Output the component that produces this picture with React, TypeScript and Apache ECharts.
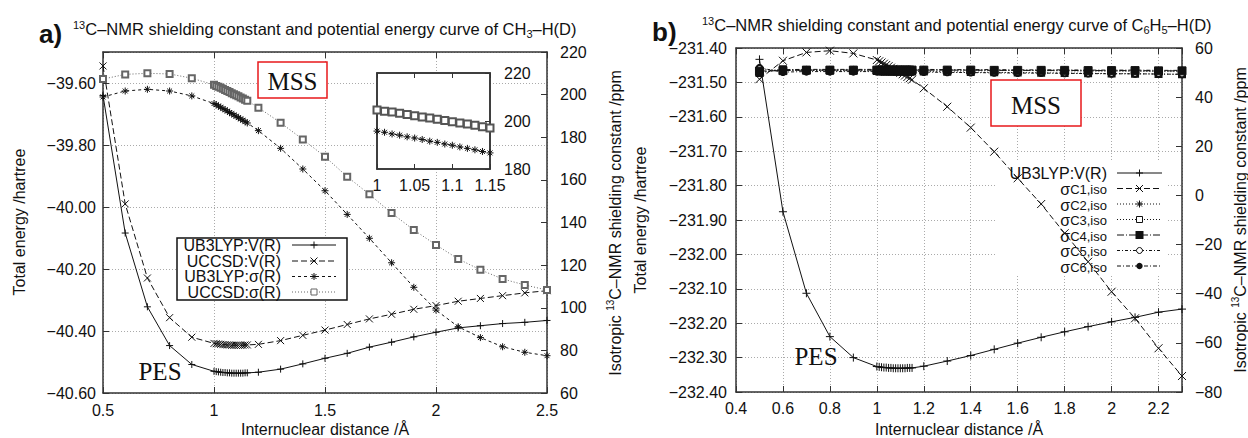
import React, { useEffect, useRef } from 'react';
import * as echarts from 'echarts';

// ---------- Panel a) CH3-H(D) ----------
const xA = [0.5, 0.6, 0.7, 0.8, 0.9,
  1.0, 1.01, 1.02, 1.03, 1.04, 1.05, 1.06, 1.07, 1.08, 1.09, 1.1, 1.11, 1.12, 1.13, 1.14, 1.15,
  1.2, 1.3, 1.4, 1.5, 1.6, 1.7, 1.8, 1.9, 2.0, 2.1, 2.2, 2.3, 2.4, 2.5];
const ub3lypVA = [-39.64, -40.084, -40.322, -40.447, -40.508,
  -40.530, -40.531, -40.532, -40.533, -40.534, -40.534, -40.535, -40.535, -40.536, -40.536, -40.536, -40.536, -40.536, -40.536, -40.535, -40.535,
  -40.533, -40.523, -40.506, -40.488, -40.472, -40.452, -40.436, -40.419, -40.404, -40.390, -40.383, -40.376, -40.372, -40.366];
const uccsdVA = [-39.545, -39.99, -40.229, -40.357, -40.420,
  -40.440, -40.441, -40.442, -40.443, -40.444, -40.444, -40.445, -40.445, -40.446, -40.446, -40.446, -40.446, -40.446, -40.446, -40.445, -40.445,
  -40.443, -40.431, -40.414, -40.397, -40.379, -40.361, -40.346, -40.330, -40.318, -40.304, -40.295, -40.286, -40.277, -40.270];
const ub3lypSA = [198.9, 201.7, 202.5, 201.7, 199.4,
  195.8, 195.3, 194.6, 194.1, 193.4, 192.9, 192.3, 191.6, 191.1, 190.4, 189.9, 189.2, 188.6, 188.0, 187.3, 186.7,
  183.1, 174.8, 165.1, 154.9, 143.8, 132.6, 121.1, 109.6, 98.9, 91.1, 86.0, 81.7, 79.1, 77.5];
const uccsdSA = [207.3, 209.5, 210.0, 209.7, 207.7,
  204.6, 204.1, 203.7, 203.2, 202.7, 202.2, 201.7, 201.2, 200.7, 200.2, 199.7, 199.2, 198.7, 198.2, 197.6, 197.1,
  193.9, 186.8, 179.0, 170.9, 161.5, 153.2, 144.4, 136.5, 129.5, 122.9, 117.8, 113.5, 110.7, 108.3];
const legendA = ['UB3LYP:V(R)', 'UCCSD:V(R)', 'UB3LYP:σ(R)', 'UCCSD:σ(R)'];

// ---------- Panel b) C6H5-H(D) ----------
const xB = [0.5, 0.6, 0.7, 0.8, 0.9,
  1.0, 1.01, 1.02, 1.03, 1.04, 1.05, 1.06, 1.07, 1.08, 1.09, 1.1, 1.11, 1.12, 1.13, 1.14, 1.15,
  1.2, 1.3, 1.4, 1.5, 1.6, 1.7, 1.8, 1.9, 2.0, 2.1, 2.2, 2.3];
const ub3lypVB = [-231.433, -231.876, -232.113, -232.239, -232.300,
  -232.326, -232.327, -232.328, -232.329, -232.329, -232.330, -232.330, -232.331, -232.331, -232.331, -232.331, -232.331, -232.331, -232.330, -232.330, -232.330,
  -232.325, -232.310, -232.294, -232.276, -232.258, -232.241, -232.225, -232.210, -232.196, -232.183, -232.168, -232.159];
const sC1 = [47.3, 54.8, 58.2, 58.9, 57.8,
  55.1, 54.6, 54.1, 53.6, 53.1, 52.6, 52.0, 51.5, 51.0, 50.4, 49.9, 49.3, 48.8, 48.2, 47.7, 47.1,
  43.6, 36.1, 27.6, 17.8, 7.0, -3.5, -15.4, -27.0, -39.2, -50.0, -62.2, -73.5];
const sC2 = [51.5, 50.8, 51.0, 51.1, 51.1,
  51.1, 51.1, 51.1, 51.1, 51.0, 51.0, 51.0, 51.0, 51.0, 51.0, 51.0, 51.0, 51.0, 51.0, 51.0, 51.0,
  51.0, 51.0, 50.9, 50.9, 50.8, 50.8, 50.7, 50.6, 50.6, 50.5, 50.4, 50.4];
const sC3 = [49.8, 51.4, 50.9, 50.8, 50.7,
  50.6, 50.6, 50.6, 50.6, 50.6, 50.6, 50.5, 50.5, 50.5, 50.5, 50.5, 50.5, 50.5, 50.5, 50.5, 50.4,
  50.4, 50.3, 50.2, 50.1, 50.0, 49.9, 49.8, 49.7, 49.6, 49.5, 49.4, 49.3];
const sC4 = [50.6, 50.8, 51.0, 51.0, 51.0,
  51.0, 51.0, 51.0, 51.0, 51.0, 51.0, 51.0, 51.0, 51.0, 51.0, 51.0, 51.0, 51.0, 51.0, 51.0, 51.0,
  51.0, 51.0, 51.0, 50.9, 50.9, 50.9, 50.9, 50.8, 50.8, 50.8, 50.7, 50.7];
const sC5 = [51.9, 50.2, 50.4, 50.4, 50.4,
  50.4, 50.4, 50.3, 50.3, 50.3, 50.3, 50.3, 50.3, 50.3, 50.3, 50.3, 50.3, 50.3, 50.2, 50.2, 50.2,
  50.2, 50.1, 50.0, 49.9, 49.8, 49.8, 49.7, 49.6, 49.5, 49.5, 49.4, 49.3];
const sC6 = [50.2, 51.2, 51.3, 51.3, 51.3,
  51.3, 51.3, 51.3, 51.3, 51.3, 51.3, 51.3, 51.3, 51.3, 51.3, 51.3, 51.3, 51.3, 51.3, 51.3, 51.3,
  51.3, 51.2, 51.2, 51.2, 51.1, 51.1, 51.1, 51.0, 51.0, 51.0, 50.9, 50.9];
const legendBSub = ['C1,iso', 'C2,iso', 'C3,iso', 'C4,iso', 'C5,iso', 'C6,iso'];

const FONT = '"Liberation Sans", Arial, Helvetica, sans-serif';
const SERIF = '"Liberation Serif", "Times New Roman", serif';
const INK = '#111';
const GRAY = '#666';
const AXIS = '#333';

const PLUS = 'path://M0,5L10,5M5,0L5,10';
const CROSS = 'path://M0,0L10,10M0,10L10,0';
const STAR = 'path://M0,5L10,5M5,0L5,10M1.5,1.5L8.5,8.5M1.5,8.5L8.5,1.5';

const DASH = [6, 3];
const SHORT = [3, 3];
const DOT = [1, 2];
const DASHDOT = [7, 2, 1, 2];
const DASHDOT2 = [3, 2, 1, 2];
const DASHDOT3 = [4, 2, 1, 2];

const pairs = (xs: number[], ys: number[]) => xs.map((x, i) => [x, ys[i]]);
const insetPairs = (xs: number[], ys: number[]) =>
  pairs(xs, ys).filter((p) => p[0] >= 0.999 && p[0] <= 1.151);
const fmtNeg = (s: string) => s.replace('-', '\u2212');

const tickLabel = { fontFamily: FONT, fontSize: 16, color: INK };
const axisLine = { show: true, onZero: false, lineStyle: { color: AXIS, width: 1.5 } };
const tickIn = { show: true, inside: true, length: 6, lineStyle: { color: AXIS, width: 1 } };
const gridDot = { show: true, lineStyle: { color: '#aaa', type: [1, 2], width: 1 } };

function mark(kind: string, cx: number, cy: number, color: string, z: number) {
  const s = 3.5;
  const st = { stroke: color, lineWidth: 1, fill: 'none' };
  const ln = (x1: number, y1: number, x2: number, y2: number) => ({ type: 'line', z, shape: { x1, y1, x2, y2 }, style: st });
  if (kind === 'plus') return [ln(cx - s, cy, cx + s, cy), ln(cx, cy - s, cx, cy + s)];
  if (kind === 'cross') return [ln(cx - s, cy - s, cx + s, cy + s), ln(cx - s, cy + s, cx + s, cy - s)];
  if (kind === 'star') return [ln(cx - s, cy, cx + s, cy), ln(cx, cy - s, cx, cy + s),
    ln(cx - 2.5, cy - 2.5, cx + 2.5, cy + 2.5), ln(cx - 2.5, cy + 2.5, cx + 2.5, cy - 2.5)];
  if (kind === 'emptyRect') return [{ type: 'rect', z, shape: { x: cx - 3, y: cy - 3, width: 6, height: 6 }, style: { fill: '#fff', stroke: color, lineWidth: 1 } }];
  if (kind === 'rect') return [{ type: 'rect', z, shape: { x: cx - 4, y: cy - 4, width: 8, height: 8 }, style: { fill: color } }];
  if (kind === 'emptyCircle') return [{ type: 'circle', z, shape: { cx, cy, r: 3 }, style: { fill: '#fff', stroke: color, lineWidth: 1 } }];
  return [{ type: 'circle', z, shape: { cx, cy, r: 3.2 }, style: { fill: color } }];
}

function sample(x1: number, x2: number, y: number, dash: number[] | null, color: string, kind: string, z: number) {
  return [
    { type: 'line', z, shape: { x1, y1: y, x2, y2: y }, style: { stroke: color, lineWidth: 1, lineDash: dash || undefined } },
    ...mark(kind, (x1 + x2) / 2, y, color, z),
  ];
}

function text(x: number, y: number, str: string, o: any = {}) {
  return {
    type: 'text', x, y, z: o.z ?? 5, rotation: o.rotation ?? 0,
    style: {
      text: str, fill: o.fill ?? INK, fontFamily: o.fontFamily ?? FONT, fontSize: o.fontSize ?? 16,
      fontWeight: o.fontWeight ?? 'normal', lineHeight: o.lineHeight,
      align: o.align ?? 'center', textAlign: o.align ?? 'center',
      verticalAlign: 'middle', textVerticalAlign: 'middle', rich: o.rich,
    },
  };
}

const supRich = {
  sup: { fontSize: 11, fontFamily: FONT, lineHeight: 12, verticalAlign: 'top', fill: INK, color: INK },
  sub: { fontSize: 11, fontFamily: FONT, lineHeight: 9, verticalAlign: 'bottom', fill: INK, color: INK },
};
const supRichSmall = {
  sup: { fontSize: 10, fontFamily: FONT, lineHeight: 12, verticalAlign: 'top', fill: INK, color: INK },
};

function lineSeries(name: string, data: any[], xi: number, yi: number, symbol: string, size: number,
  color: string, dash: any, extra: any = {}) {
  return {
    name, type: 'line', xAxisIndex: xi, yAxisIndex: yi, data, symbol, symbolSize: size,
    showAllSymbol: true, animation: false,
    lineStyle: { color, width: 1, type: dash },
    itemStyle: { color, borderColor: color, borderWidth: 1 },
    emphasis: { disabled: true },
    ...extra,
  };
}

function buildOption() {
  const graphics: any[] = [];
  // panel labels and titles
  graphics.push(text(39, 34, 'a)', { fontSize: 26, fontWeight: 'bold', align: 'left' }));
  graphics.push(text(73, 29, '{sup|13}C–NMR shielding constant and potential energy curve of CH{sub|3}–H(D)',
    { align: 'left', fontSize: 16.5, lineHeight: 20, rich: supRich }));
  graphics.push(text(652, 32, 'b)', { fontSize: 26, fontWeight: 'bold', align: 'left' }));
  graphics.push(text(702, 25, '{sup|13}C–NMR shielding constant and potential energy curve of C{sub|6}H{sub|5}–H(D)',
    { align: 'left', fontSize: 16.5, lineHeight: 20, rich: supRich }));
  // axis titles
  graphics.push(text(19, 222, 'Total energy /hartree', { rotation: Math.PI / 2 }));
  graphics.push(text(615, 223, 'Isotropic {sup|13}C–NMR shielding constant /ppm', { rotation: Math.PI / 2, lineHeight: 20, rich: supRichSmall }));
  graphics.push(text(325, 429, 'Internuclear distance /Å'));
  graphics.push(text(640, 220, 'Total energy /hartree', { rotation: Math.PI / 2 }));
  graphics.push(text(1240, 220, 'Isotropic {sup|13}C–NMR shielding constant /ppm', { rotation: Math.PI / 2, lineHeight: 20, rich: supRichSmall }));
  graphics.push(text(959, 429, 'Internuclear distance /Å'));
  // MSS / PES annotations
  graphics.push({ type: 'rect', z: 1, shape: { x: 258, y: 62, width: 69, height: 36 }, style: { fill: '#fff', stroke: '#e8191b', lineWidth: 1.5 } });
  graphics.push(text(292.5, 81, 'MSS', { fontFamily: SERIF, fontSize: 25, z: 2 }));
  graphics.push(text(160, 371, 'PES', { fontFamily: SERIF, fontSize: 25, z: 2 }));
  graphics.push({ type: 'rect', z: 1, shape: { x: 991, y: 80, width: 90, height: 46 }, style: { fill: '#fff', stroke: '#e8191b', lineWidth: 1.5 } });
  graphics.push(text(1036, 105, 'MSS', { fontFamily: SERIF, fontSize: 25, z: 2 }));
  graphics.push(text(816, 356, 'PES', { fontFamily: SERIF, fontSize: 25, z: 2 }));

  // legend a
  graphics.push({ type: 'rect', z: 4, shape: { x: 177, y: 238, width: 170, height: 62 }, style: { fill: '#fff', stroke: INK, lineWidth: 1.5 } });
  const styleA: [number[] | null, string, string][] = [[null, 'plus', INK], [DASH, 'cross', INK], [SHORT, 'star', INK], [DOT, 'emptyRect', GRAY]];
  const ysA = [245, 261, 276.5, 292];
  legendA.forEach((name, i) => {
    graphics.push(text(281, ysA[i], name, { align: 'right', z: 5, lineHeight: 15 }));
    graphics.push(...sample(292, 336, ysA[i], styleA[i][0], styleA[i][2], styleA[i][1], 5));
  });

  // legend b
  graphics.push({ type: 'rect', z: 1, shape: { x: 997, y: 160, width: 169, height: 114 }, style: { fill: '#fff' } });
  const ysB = [173, 188.5, 204, 219.5, 235, 250.5, 266];
  const styleB: [number[] | null, string][] = [[null, 'plus'], [DASH, 'cross'], [DOT, 'star'], [DOT, 'emptyRect'], [DASHDOT, 'rect'], [DASHDOT2, 'emptyCircle'], [DASHDOT3, 'circle']];
  graphics.push(text(1107, ysB[0], 'UB3LYP:V(R)', { align: 'right', z: 1, lineHeight: 15 }));
  legendBSub.forEach((sub, i) => {
    graphics.push(text(1107, ysB[i + 1] + 1, `{s|σ}{b|${sub}}`, {
      align: 'right', z: 1, rich: {
        s: { fontSize: 16, fontFamily: FONT, lineHeight: 13, verticalAlign: 'middle' },
        b: { fontSize: 13, fontFamily: FONT, lineHeight: 9, verticalAlign: 'bottom' },
      },
    }));
  });
  styleB.forEach((s, i) => graphics.push(...sample(1117, 1162, ysB[i], s[0], INK, s[1], 1)));

  return {
    animation: false,
    backgroundColor: '#fff',
    grid: [
      { left: 103, top: 52, width: 444, height: 341, show: false },
      { left: 377, top: 73, width: 113, height: 96, show: true, z: 1, backgroundColor: '#fff', borderColor: AXIS, borderWidth: 1.5 },
      { left: 736, top: 48, width: 446, height: 344, show: false },
    ],
    xAxis: [
      { gridIndex: 0, type: 'value', min: 0.5, max: 2.5, interval: 0.5, position: 'bottom', axisLine, axisTick: tickIn,
        axisLabel: { ...tickLabel, margin: 9 }, splitLine: gridDot },
      { gridIndex: 0, type: 'value', min: 0.5, max: 2.5, interval: 0.5, position: 'top', axisLine, axisTick: tickIn,
        axisLabel: { show: false }, splitLine: { show: false } },
      { gridIndex: 1, type: 'value', min: 1, max: 1.15, interval: 0.05, position: 'bottom', z: 3, axisLine, axisTick: { ...tickIn, length: 5 },
        axisLabel: { ...tickLabel, margin: 8 }, splitLine: { show: false } },
      { gridIndex: 1, type: 'value', min: 1, max: 1.15, interval: 0.05, position: 'top', z: 3, axisLine, axisTick: { ...tickIn, length: 5 },
        axisLabel: { show: false }, splitLine: { show: false } },
      { gridIndex: 2, type: 'value', min: 0.4, max: 2.3, interval: 0.2, position: 'bottom', axisLine, axisTick: tickIn,
        axisLabel: { ...tickLabel, margin: 8, formatter: (v: number) => (Math.abs(v - 2.3) < 1e-6 ? '' : String(+v.toFixed(1))) },
        splitLine: gridDot },
      { gridIndex: 2, type: 'value', min: 0.4, max: 2.3, interval: 0.2, position: 'top', axisLine, axisTick: tickIn,
        axisLabel: { show: false }, splitLine: { show: false } },
    ],
    yAxis: [
      { gridIndex: 0, type: 'value', min: -40.6, max: -39.5, interval: 0.2, position: 'left', axisLine, axisTick: tickIn,
        axisLabel: { ...tickLabel, margin: 7, formatter: (v: number) => (Math.abs(v + 39.5) < 1e-6 ? '' : fmtNeg(v.toFixed(2))) },
        splitLine: gridDot },
      { gridIndex: 0, type: 'value', min: 60, max: 220, interval: 20, position: 'right', axisLine, axisTick: tickIn,
        axisLabel: { ...tickLabel, margin: 13 }, splitLine: { show: false } },
      { gridIndex: 1, type: 'value', min: 180, max: 220, interval: 20, position: 'right', z: 3, axisLine, axisTick: { ...tickIn, length: 5 },
        axisLabel: { ...tickLabel, margin: 14 }, splitLine: { show: false } },
      { gridIndex: 1, type: 'value', min: 180, max: 220, interval: 20, position: 'left', z: 3, axisLine, axisTick: { show: false },
        axisLabel: { show: false }, splitLine: { show: false } },
      { gridIndex: 2, type: 'value', min: -232.4, max: -231.4, interval: 0.1, position: 'left', axisLine, axisTick: tickIn,
        axisLabel: { ...tickLabel, margin: 9, formatter: (v: number) => fmtNeg(v.toFixed(2)) }, splitLine: gridDot },
      { gridIndex: 2, type: 'value', min: -80, max: 60, interval: 20, position: 'right', axisLine, axisTick: tickIn,
        axisLabel: { ...tickLabel, margin: 13, formatter: (v: number) => fmtNeg(String(v)) }, splitLine: { show: false } },
    ],
    series: [
      lineSeries('UB3LYP:V(R)', pairs(xA, ub3lypVA), 0, 0, PLUS, 7, INK, 'solid'),
      lineSeries('UCCSD:V(R)', pairs(xA, uccsdVA), 0, 0, CROSS, 7, INK, DASH),
      lineSeries('UB3LYP:σ(R)', pairs(xA, ub3lypSA), 0, 1, STAR, 7, INK, SHORT),
      lineSeries('UCCSD:σ(R)', pairs(xA, uccsdSA), 0, 1, 'emptyRect', 6, GRAY, DOT),
      lineSeries('UB3LYP:σ(R) inset', insetPairs(xA, ub3lypSA), 2, 2, STAR, 7, INK, SHORT, { z: 3 }),
      lineSeries('UCCSD:σ(R) inset', insetPairs(xA, uccsdSA), 2, 2, 'emptyRect', 7, '#555', DOT, { z: 3 }),

      lineSeries('σC2,iso', pairs(xB, sC2), 4, 5, STAR, 7, INK, DOT),
      lineSeries('σC3,iso', pairs(xB, sC3), 4, 5, 'emptyRect', 6, INK, DOT),
      lineSeries('σC5,iso', pairs(xB, sC5), 4, 5, 'emptyCircle', 6, INK, DASHDOT2),
      lineSeries('σC4,iso', pairs(xB, sC4), 4, 5, 'rect', 8, INK, DASHDOT),
      lineSeries('σC6,iso', pairs(xB, sC6), 4, 5, 'circle', 6, INK, DASHDOT3),
      lineSeries('σC1,iso', pairs(xB, sC1), 4, 5, CROSS, 8, INK, DASH),
      lineSeries('UB3LYP:V(R) b', pairs(xB, ub3lypVB), 4, 4, PLUS, 8, INK, 'solid'),
    ],
    graphic: { elements: graphics },
  };
}

export default function App() {
  const ref = useRef<HTMLDivElement>(null);
  useEffect(() => {
    if (!ref.current) return;
    const chart = echarts.init(ref.current, undefined, { renderer: 'svg' });
    chart.setOption(buildOption() as any);
    return () => chart.dispose();
  }, []);
  return (
    <div
      ref={ref}
      style={{ position: 'fixed', left: 0, top: 0, width: 1248, height: 438, background: '#fff' }}
    />
  );
}
